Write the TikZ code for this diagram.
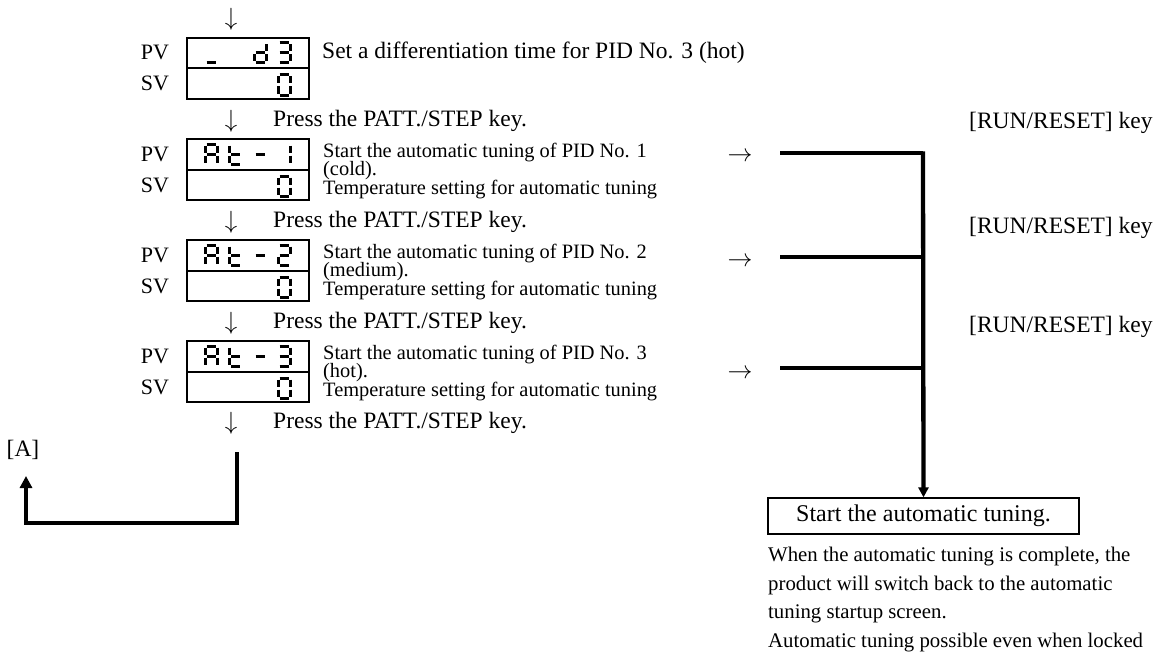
\documentclass[tikz,border=0pt]{standalone}
\usepackage{fontspec}
\setmainfont{Liberation Serif}
\usetikzlibrary{positioning,arrows.meta}
\lineskiplimit=-20pt

% one bar of a seven-segment digit (a..g)
\newcommand\drawseg[1]{%
  \if#1a\draw[segline] (1.5,0) -- (10.5,0);\fi
  \if#1b\draw[segline] (12,1.5) -- (12,8.5);\fi
  \if#1c\draw[segline] (12,11.5) -- (12,18.5);\fi
  \if#1d\draw[segline] (1.5,20) -- (10.5,20);\fi
  \if#1e\draw[segline] (0,11.5) -- (0,18.5);\fi
  \if#1f\draw[segline] (0,1.5) -- (0,8.5);\fi
  \if#1g\draw[segline] (1.5,10) -- (10.5,10);\fi}
\newcommand\segchar[3]{%
  \begin{scope}[shift={(#1,#2)}]
    \foreach \s in {#3} {\drawseg{\s}}
  \end{scope}}

\begin{document}
\begin{tikzpicture}[x=1pt, y=-1pt,
dispbox/.style={draw, line width=2pt, minimum width=122pt, minimum height=61pt, inner sep=0pt},
divider/.style={line width=2pt},
segline/.style={line width=3pt},
tag/.style={font=\fontsize{22}{26}\selectfont, inner sep=0pt},
lbl/.style={font=\fontsize{23.5}{27}\selectfont, inner sep=0pt},
note/.style={font=\fontsize{20.4}{18.4}\selectfont, align=left, inner sep=0pt, anchor=north west},
keylbl/.style={font=\fontsize{23.5}{27}\selectfont, inner sep=0pt, anchor=west},
startbox/.style={draw, line width=1.3pt, minimum width=311pt, minimum height=36pt, font=\fontsize{24}{28}\selectfont},
para/.style={font=\fontsize{20.8}{28.5}\selectfont, align=left, inner sep=0pt, anchor=north west},
bus/.style={line width=3.3pt},
trunk/.style={line width=4.3pt},
]
\useasboundingbox (0,0) rectangle (1165,669);

% display 1
\node[lbl] (down0) at (231,19) {$\downarrow$};
\node[dispbox] (disp1) at (248,68.5) {};
\draw[divider] (disp1.west) -- (disp1.east);
\node[tag] (pv1) at (155,52) {PV};
\node[tag] (sv1) at (155,83) {SV};
\segchar{205}{43}{d}
\segchar{254}{43}{b,c,d,e,g}
\segchar{278}{43}{a,b,c,d,g}
\segchar{278}{75}{a,b,c,d,e,f}
\node[lbl, anchor=west] (desc1) at (322,53) {Set a differentiation time for PID No. 3 (hot)};

% display 2
\node[lbl] (down1) at (231,121) {$\downarrow$};
\node[lbl, anchor=west] (press1) at (273,121) {Press the PATT./STEP key.};
\node[dispbox] (disp2) at (248,169.5) {};
\draw[divider] (disp2.west) -- (disp2.east);
\node[tag] (pv2) at (155,154) {PV};
\node[tag] (sv2) at (155,185) {SV};
\segchar{205}{144}{a,b,c,e,f,g}
\segchar{229.5}{144}{d,e,f,g}
\segchar{254}{144}{g}
\segchar{278}{144}{b,c}
\segchar{278}{176}{a,b,c,d,e,f}
\node[note] (desc2) at (323,143) {Start the automatic tuning of PID No. 1\\(cold).\\Temperature setting for automatic tuning};

% display 3
\node[lbl] (down2) at (231,222) {$\downarrow$};
\node[lbl, anchor=west] (press2) at (273,222) {Press the PATT./STEP key.};
\node[dispbox] (disp3) at (248,270.5) {};
\draw[divider] (disp3.west) -- (disp3.east);
\node[tag] (pv3) at (155,255) {PV};
\node[tag] (sv3) at (155,286) {SV};
\segchar{205}{245}{a,b,c,e,f,g}
\segchar{229.5}{245}{d,e,f,g}
\segchar{254}{245}{g}
\segchar{278}{245}{a,b,g,e,d}
\segchar{278}{277}{a,b,c,d,e,f}
\node[note] (desc3) at (323,244) {Start the automatic tuning of PID No. 2\\(medium).\\Temperature setting for automatic tuning};

% display 4
\node[lbl] (down3) at (231,323) {$\downarrow$};
\node[lbl, anchor=west] (press3) at (273,323) {Press the PATT./STEP key.};
\node[dispbox] (disp4) at (248,371.5) {};
\draw[divider] (disp4.west) -- (disp4.east);
\node[tag] (pv4) at (155,356) {PV};
\node[tag] (sv4) at (155,387) {SV};
\segchar{205}{346}{a,b,c,e,f,g}
\segchar{229.5}{346}{d,e,f,g}
\segchar{254}{346}{g}
\segchar{278}{346}{a,b,c,d,g}
\segchar{278}{378}{a,b,c,d,e,f}
\node[note] (desc4) at (323,345) {Start the automatic tuning of PID No. 3\\(hot).\\Temperature setting for automatic tuning};

\node[lbl] (down4) at (231,423) {$\downarrow$};
\node[lbl, anchor=west] (press4) at (273,423) {Press the PATT./STEP key.};

% back to [A]
\node[lbl] (lblA) at (23,450) {[A]};
\coordinate (loopTop) at (237,452);
\coordinate (loopBot) at (237,523);
\coordinate (loopEnd) at (26,476);
\draw[trunk, line width=4pt, -{Triangle[width=12pt,length=12pt]}] (loopTop) -- (loopBot) -| (loopEnd);

% RUN/RESET branches
\node[lbl] (arr1) at (740,157) {$\rightarrow$};
\node[lbl] (arr2) at (740,262) {$\rightarrow$};
\node[lbl] (arr3) at (740,374) {$\rightarrow$};
\coordinate (h1) at (780,153);
\coordinate (j1) at (923,153);
\coordinate (h2) at (780,257);
\coordinate (j2) at (923,257);
\coordinate (h3) at (780,368);
\coordinate (j3) at (923,368);
\draw[bus] (h1) -- (j1);
\draw[bus] (h2) -- (j2);
\draw[bus] (h3) -- (j3);
\node[keylbl] (key1) at (969,123) {[RUN/RESET] key};
\node[keylbl] (key2) at (969,228) {[RUN/RESET] key};
\node[keylbl] (key3) at (969,327) {[RUN/RESET] key};

\node[startbox] (start) at (923.5,516) {Start the automatic tuning.};
\draw[trunk, -{Triangle[width=10pt,length=10pt]}] ([yshift=1.6pt]j1) -- (start.north);

\node[para] (result) at (768,547) {When the automatic tuning is complete, the\\product will switch back to the automatic\\tuning startup screen.\\Automatic tuning possible even when locked};

\end{tikzpicture}
\end{document}
